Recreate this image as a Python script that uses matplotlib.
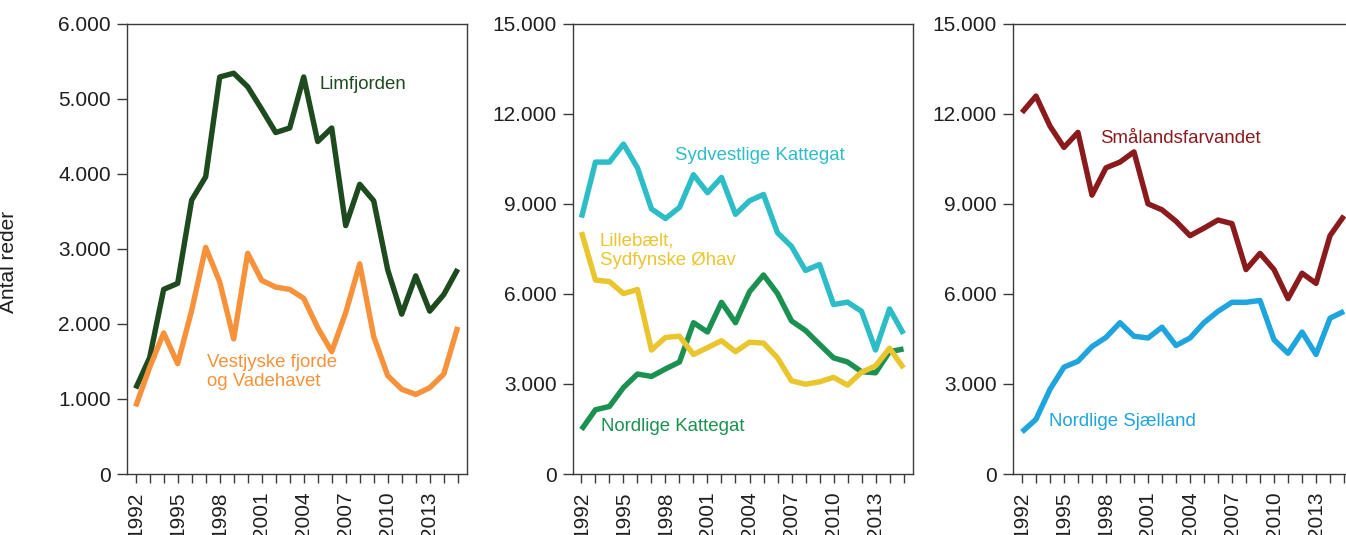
import matplotlib
matplotlib.use("Agg")
import matplotlib.pyplot as plt
from matplotlib.ticker import FuncFormatter, FixedLocator

plt.rcParams['font.family'] = ['Liberation Sans', 'DejaVu Sans']

years = list(range(1992, 2016))

limfjorden = [1140, 1550, 2460, 2540, 3650, 3960, 5290, 5340, 5160, 4860, 4550, 4610,
              5290, 4430, 4610, 3310, 3860, 3640, 2720, 2130, 2640, 2170, 2390, 2730]
vestjyske = [900, 1420, 1880, 1470, 2180, 3020, 2560, 1800, 2940, 2580, 2490, 2460,
             2340, 1950, 1630, 2150, 2800, 1830, 1310, 1130, 1060, 1150, 1330, 1960]

sydvestlige = [8540, 10390, 10390, 10990, 10200, 8830, 8510, 8880, 9970, 9370, 9880, 8650,
               9100, 9310, 8035, 7580, 6780, 6980, 5645, 5725, 5420, 4130, 5500, 4670]
lillebaelt = [8060, 6460, 6410, 6010, 6145, 4130, 4550, 4590, 3980, 4210, 4440, 4075,
              4390, 4360, 3870, 3105, 2990, 3070, 3220, 2960, 3390, 3600, 4190, 3530]
nordlige_kattegat = [1480, 2140, 2250, 2880, 3330, 3250, 3500, 3730, 5040, 4730, 5720, 5040,
                     6070, 6630, 6010, 5100, 4780, 4320, 3870, 3730, 3410, 3370, 4075, 4165]

smaalands = [12040, 12590, 11590, 10880, 11380, 9290, 10200, 10390, 10730, 9000, 8800, 8420,
             7940, 8190, 8460, 8340, 6810, 7350, 6810, 5840, 6690, 6350, 7940, 8600]
nordlige_sjaelland = [1400, 1820, 2820, 3560, 3755, 4245, 4550, 5040, 4590, 4530, 4890, 4280,
                      4530, 5040, 5420, 5720, 5720, 5780, 4470, 4020, 4730, 3980, 5190, 5420]

label_years = [1992, 1995, 1998, 2001, 2004, 2007, 2010, 2013]
ylabel = "Antal reder"

fig = plt.figure(figsize=(13.46, 5.35), dpi=100)
W, H = 1346, 535
bottom = (535 - 474) / H
height = 450.3 / H
width = 340 / W
lefts = [126.7 / W, 572.5 / W, 1013 / W]

axes = [fig.add_axes([l, bottom, width, height]) for l in lefts]

def fmt(v, pos):
    return f"{int(round(v)):,}".replace(",", ".")

lw = 3.9
spine_col = '#3a3a3a'
txt_col = '#1e1e1e'

for ax in axes:
    ax.set_xlim(1991.36, 2015.64)
    ax.xaxis.set_major_locator(FixedLocator(years))
    ax.set_xticklabels([str(y) if y in label_years else '' for y in years], rotation=90)
    ax.yaxis.set_major_formatter(FuncFormatter(fmt))
    ax.tick_params(axis='x', direction='out', length=9.3 * 0.72, width=1.0, color=spine_col,
                   labelsize=15, pad=6.0, labelcolor=txt_col)
    ax.tick_params(axis='y', direction='out', length=10.5 * 0.72, width=1.0, color=spine_col,
                   labelsize=15, pad=4.0, labelcolor=txt_col)
    for s in ax.spines.values():
        s.set_color(spine_col)
        s.set_linewidth(1.0)

# Panel 1
ax = axes[0]
ax.set_ylim(0, 6000)
ax.set_yticks([0, 1000, 2000, 3000, 4000, 5000, 6000])
ax.plot(years, limfjorden, color='#1d4a1e', lw=lw, solid_capstyle='butt')
ax.plot(years, vestjyske, color='#f7923a', lw=lw, solid_capstyle='butt')
ax.text(2005.16, 5196, "Limfjorden", color='#1d4a1e', fontsize=13.4, ha='left', va='center')
ax.text(1997.13, 1359, "Vestjyske fjorde\nog Vadehavet", color='#f7923a', fontsize=13.4,
        ha='left', va='center', linespacing=1.2)
ax.set_ylabel(ylabel, fontsize=15, color=txt_col)
ax.yaxis.set_label_coords(-0.32, 0.47)

# Panel 2
ax = axes[1]
ax.set_ylim(0, 15000)
ax.set_yticks([0, 3000, 6000, 9000, 12000, 15000])
ax.plot(years, sydvestlige, color='#2dbdc6', lw=lw, solid_capstyle='butt')
ax.plot(years, nordlige_kattegat, color='#1a9150', lw=lw, solid_capstyle='butt')
ax.plot(years, lillebaelt, color='#e9c52e', lw=lw, solid_capstyle='butt')
ax.text(1998.66, 10618, "Sydvestlige Kattegat", color='#2dbdc6', fontsize=13.4, ha='left', va='center')
ax.text(1993.3, 7443, "Lillebælt,\nSydfynske Øhav", color='#e9c52e', fontsize=13.4,
        ha='left', va='center', linespacing=1.2)
ax.text(1993.4, 1593, "Nordlige Kattegat", color='#1a9150', fontsize=13.4, ha='left', va='center')

# Panel 3
ax = axes[2]
ax.set_ylim(0, 15000)
ax.set_yticks([0, 3000, 6000, 9000, 12000, 15000])
ax.plot(years, smaalands, color='#8b1a1d', lw=lw, solid_capstyle='butt')
ax.plot(years, nordlige_sjaelland, color='#1ea5dd', lw=lw, solid_capstyle='butt')
ax.text(1997.59, 11188, "Smålandsfarvandet", color='#8b1a1d', fontsize=13.4, ha='left', va='center')
ax.text(1993.9, 1742, "Nordlige Sjælland", color='#1ea5dd', fontsize=13.4, ha='left', va='center')

fig.savefig("out.png", dpi=100)
